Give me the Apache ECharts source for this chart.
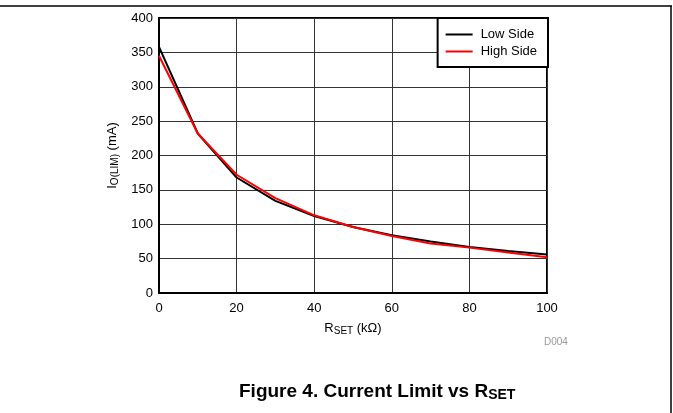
<!DOCTYPE html>
<html>
<head>
<meta charset="utf-8">
<script src="https://cdn.jsdelivr.net/npm/echarts@6/dist/echarts.min.js"></script>
<style>html,body{margin:0;padding:0;background:#fff}#c{width:673px;height:413px}</style>
</head>
<body>
<div id="c"></div>
<script>
var rset = [0, 10, 20, 30, 40, 50, 60, 70, 80, 90, 100];
var lowSide = [358, 232, 168, 134, 112, 96, 84, 75, 67, 61, 56];
var highSide = [345, 232, 172, 138, 113, 96, 83, 72, 66, 59, 52];
var yTicks = [0, 50, 100, 150, 200, 250, 300, 350, 400];
var xTicks = [0, 20, 40, 60, 80, 100];

function pairs(xs, ys) { return xs.map(function (x, i) { return [x, ys[i]]; }); }

var font = 'Liberation Sans, Arial, sans-serif';
var chart = echarts.init(document.getElementById('c'), null, { renderer: 'canvas' });
chart.setOption({
  animation: false,
  backgroundColor: '#fff',
  textStyle: { fontFamily: font },
  grid: { left: 159, right: 126, top: 18, bottom: 120, show: true, borderColor: '#000', borderWidth: 2, containLabel: false },
  title: {
    text: '{a|Figure 4. Current Limit vs R}{b|SET}',
    left: 234, top: 376,
    textStyle: { rich: {
      a: { fontFamily: font, fontSize: 19, fontWeight: 'bold', color: '#000' },
      b: { fontFamily: font, fontSize: 14, fontWeight: 'bold', color: '#000', verticalAlign: 'bottom', padding: [7, 0, 0, 0] }
    } }
  },
  legend: {
    orient: 'vertical', right: 125, top: 18,
    backgroundColor: '#fff', borderColor: '#000', borderWidth: 2,
    padding: [10, 11, 9, 8], itemGap: 4,
    itemWidth: 27, itemHeight: 2, icon: 'rect',
    textStyle: { fontFamily: font, fontSize: 13, color: '#000', padding: [0, 0, 0, 3] },
    data: ['Low Side', 'High Side']
  },
  xAxis: {
    type: 'value', min: 0, max: 100, interval: 20,
    name: '{a|R}{b|SET}{a| (kΩ)}', nameLocation: 'middle', nameGap: 28,
    nameTextStyle: { rich: {
      a: { fontFamily: font, fontSize: 13, color: '#000' },
      b: { fontFamily: font, fontSize: 10, color: '#000', verticalAlign: 'bottom', padding: [5, 0, 0, 0] }
    } },
    axisLine: { show: true, lineStyle: { color: '#000', width: 2 } },
    axisTick: { show: false },
    axisLabel: { color: '#000', fontSize: 13, fontFamily: font, margin: 9 },
    splitLine: { show: true, lineStyle: { color: '#333', width: 1 } }
  },
  yAxis: {
    type: 'value', min: 0, max: 400, interval: 50,
    name: '{a|I}{b|O(LIM)}{a| (mA)}', nameLocation: 'middle', nameGap: 35, nameRotate: 90,
    nameTextStyle: { rich: {
      a: { fontFamily: font, fontSize: 13, color: '#000' },
      b: { fontFamily: font, fontSize: 10, color: '#000', verticalAlign: 'bottom', padding: [5, 0, 0, 0] }
    } },
    axisLine: { show: true, lineStyle: { color: '#000', width: 2 } },
    axisTick: { show: false },
    axisLabel: { color: '#000', fontSize: 13, fontFamily: font, margin: 6 },
    splitLine: { show: true, lineStyle: { color: '#333', width: 1 } }
  },
  graphic: [
    { type: 'line', shape: { x1: 0, y1: 6, x2: 672, y2: 6 }, style: { stroke: '#000', lineWidth: 1.5 } },
    { type: 'line', shape: { x1: 671, y1: 6, x2: 671, y2: 413 }, style: { stroke: '#000', lineWidth: 1.5 } },
    { type: 'text', left: 544, top: 337, style: { text: 'D004', fill: '#999', fontSize: 10, fontFamily: font } }
  ],
  series: [
    { name: 'Low Side', type: 'line', data: pairs(rset, lowSide), showSymbol: false, symbol: 'none',
      lineStyle: { color: '#000', width: 2 }, itemStyle: { color: '#000' }, z: 2 },
    { name: 'High Side', type: 'line', data: pairs(rset, highSide), showSymbol: false, symbol: 'none',
      lineStyle: { color: '#ff0000', width: 2 }, itemStyle: { color: '#ff0000' }, z: 3 }
  ]
});
</script>
</body>
</html>
